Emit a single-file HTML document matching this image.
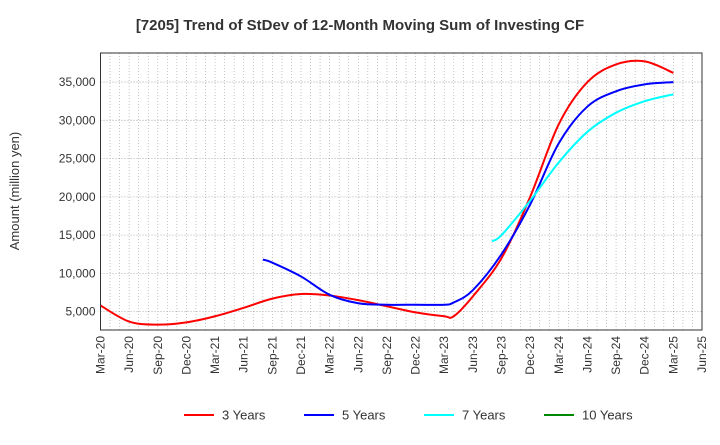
<!DOCTYPE html>
<html><head><meta charset="utf-8"><style>
body{margin:0;background:#fff;font-family:"Liberation Sans",Arial,sans-serif}
</style></head><body>
<svg id="c" width="720" height="440" xmlns="http://www.w3.org/2000/svg">
<text x="360" y="30" text-anchor="middle" font-size="15" font-weight="bold" fill="#333">[7205]  Trend of StDev of 12-Month Moving Sum of Investing CF</text>
<text transform="translate(19,191) rotate(-90)" text-anchor="middle" font-size="13" fill="#333">Amount (million yen)</text>
<g id="grid"></g><g id="series"></g><g id="axes"></g><g id="legend"></g>
</svg>
<script>
const xLabels=["Mar-20","Jun-20","Sep-20","Dec-20","Mar-21","Jun-21","Sep-21","Dec-21","Mar-22","Jun-22","Sep-22","Dec-22","Mar-23","Jun-23","Sep-23","Dec-23","Mar-24","Jun-24","Sep-24","Dec-24","Mar-25","Jun-25"];
const yTicks=[5000,10000,15000,20000,25000,30000,35000];
// month index (0 = Mar-20)
const red_m=[0,3,6,9,12,15,18,21,24,27,30,33,36,37,39,42,45,48,51,54,57,60];
const red_v=[5800,3700,3300,3600,4400,5500,6700,7300,7100,6500,5700,4900,4400,4400,7000,12000,20000,29500,35000,37300,37700,36200];
const blue_m=[17,18,21,24,27,30,33,36,37,39,42,45,48,51,54,57,60];
const blue_v=[11800,11400,9600,7200,6100,5900,5900,5900,6200,7800,12500,19000,27000,31800,33800,34700,35000];
const cyan_m=[41,42,45,48,51,54,57,60];
const cyan_v=[14200,15000,19500,24500,28500,31000,32500,33400];
const L=100.5,R=702,T=53,B=330,yMin=2600,yMax=38800;
const X=m=>L+m*(R-L)/63, Y=v=>B-(v-yMin)/(yMax-yMin)*(B-T);
const NS="http://www.w3.org/2000/svg";
function mk(t,a,p){const e=document.createElementNS(NS,t);for(const k in a)e.setAttribute(k,a[k]);p.appendChild(e);return e;}
const g=document.getElementById('grid');
for(let m=0;m<=63;m++){const l=mk('line',{x1:X(m),x2:X(m),y1:T,y2:B,stroke:'#aaa','stroke-width':0.7,'stroke-dasharray':'1,2'},g);

}
yTicks.forEach(v=>{const l=mk('line',{x1:L,x2:R,y1:Y(v),y2:Y(v),stroke:'#999','stroke-width':0.8,'stroke-dasharray':'1,2'},g);

});
const ax=document.getElementById('axes');
const fr=mk('rect',{x:L,y:T,width:R-L,height:B-T,fill:'none',stroke:'#333','stroke-width':1},ax);


yTicks.forEach(v=>{const t=mk('text',{x:L-5,y:Y(v)+4,'text-anchor':'end','font-size':12,fill:'#333'},ax);t.textContent=v.toLocaleString('en-US');

});
xLabels.forEach((s,i)=>{const x=X(i*3)+4;const t=mk('text',{x:x,y:B+6,'text-anchor':'end','font-size':12,fill:'#333',transform:`rotate(-90 ${x} ${B+6})`},ax);t.textContent=s;

});
function path(ms,vs){const p=ms.map((m,i)=>[X(m),Y(vs[i])]);let d=`M${p[0][0]},${p[0][1]}`;
for(let i=0;i<p.length-1;i++){const p0=p[i-1]||p[i],p1=p[i],p2=p[i+1],p3=p[i+2]||p2;
d+=` C${p1[0]+(p2[0]-p0[0])/6},${p1[1]+(p2[1]-p0[1])/6} ${p2[0]-(p3[0]-p1[0])/6},${p2[1]-(p3[1]-p1[1])/6} ${p2[0]},${p2[1]}`;}return d;}
const sg=document.getElementById('series');
[[red_m,red_v,'#f00','series-3-years'],[blue_m,blue_v,'#00f','series-5-years'],[cyan_m,cyan_v,'#0ff','series-7-years']].forEach(s=>{
const e=mk('path',{d:path(s[0],s[1]),fill:'none',stroke:s[2],'stroke-width':2},sg);

});
const lg=document.getElementById('legend');
[['3 Years','#f00',184],['5 Years','#00f',304],['7 Years','#0ff',424],['10 Years','#080',544]].forEach(s=>{
const e=mk('g',{},lg);


mk('line',{x1:s[2],x2:s[2]+30,y1:415,y2:415,stroke:s[1],'stroke-width':2},e);
const t=mk('text',{x:s[2]+38,y:419.5,'font-size':13,fill:'#333'},e);t.textContent=s[0];});
</script>
</body></html>
